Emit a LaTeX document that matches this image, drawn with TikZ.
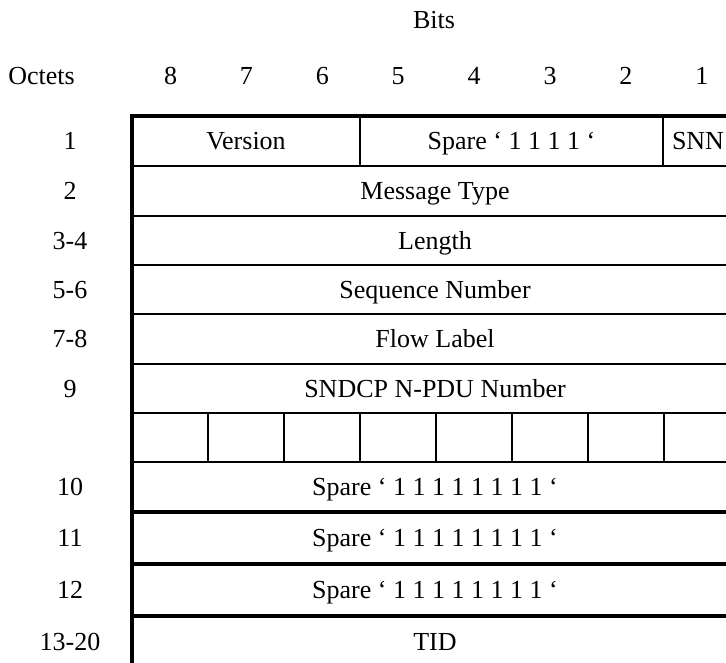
\documentclass[tikz,border=0pt]{standalone}
\usepackage{fontspec}
\setmainfont{Liberation Serif}
\begin{document}
\begin{tikzpicture}[x=1pt,y=-1pt,
  lbl/.style={anchor=base,inner sep=0pt,font=\fontsize{26}{30}\selectfont},
  rule/.style={line width=2pt,line cap=rect},
  heavyrule/.style={line width=3.5pt},
  border/.style={line width=3.5pt}]
\useasboundingbox (0,0) rectangle (726,662);
\clip (0,0) rectangle (726,662);
% headings
\node[lbl] (bits) at (434,28) {Bits};
\node[lbl] (octets) at (41.5,84) {Octets};
\foreach \n in {8,7,...,1}{
  \node[lbl] (b\n) at ({170.5+75.9*(8-\n)},84) {\n};
}
% octet numbers
\foreach \t/\y [count=\i] in {1/141,2/191,3-4/240.5,5-6/289.5,7-8/339,9/388.5,10/487,11/538,12/590,13-20/642}{
  \node[lbl] (o\i) at (70,\y+8.5) {\t};
}
% horizontal rules
\foreach \y in {166,216,265,314,364,413,462}{
  \draw[rule] (132,\y) -- (745,\y);
}
\foreach \y in {512,564,616,668}{
  \draw[heavyrule] (132,\y) -- (745,\y);
}
\draw[border] (130.5,116) -- (745,116);
\draw[border,line width=4pt] (132,114.3) -- (132,680);
% verticals in octet 1
\draw[rule,line cap=butt] (360,116) -- (360,166);
\draw[rule,line cap=butt] (663,116) -- (663,166);
% verticals in empty row
\foreach \k in {1,...,7}{
  \draw[rule,line cap=butt] ({132.3+75.9*\k},413) -- ({132.3+75.9*\k},462);
}
% field texts
\node[lbl] (version) at (246,149.5) {Version};
\node[lbl] (spare4) at (511.5,149.5) {Spare ‘ 1 1 1 1 ‘};
\node[lbl] (snn) at (698,149.5) {SNN};
\node[lbl] (msg) at (435,199.5) {Message Type};
\node[lbl] (len) at (435,249) {Length};
\node[lbl] (seq) at (435,298) {Sequence Number};
\node[lbl] (flow) at (435,347.5) {Flow Label};
\node[lbl] (ndpu) at (435,397) {SNDCP N-PDU Number};
\node[lbl] (sp10) at (435,495.5) {Spare ‘ 1 1 1 1 1 1 1 1 ‘};
\node[lbl] (sp11) at (435,546.5) {Spare ‘ 1 1 1 1 1 1 1 1 ‘};
\node[lbl] (sp12) at (435,598.5) {Spare ‘ 1 1 1 1 1 1 1 1 ‘};
\node[lbl] (tid) at (435,650.5) {TID};
\end{tikzpicture}
\end{document}
